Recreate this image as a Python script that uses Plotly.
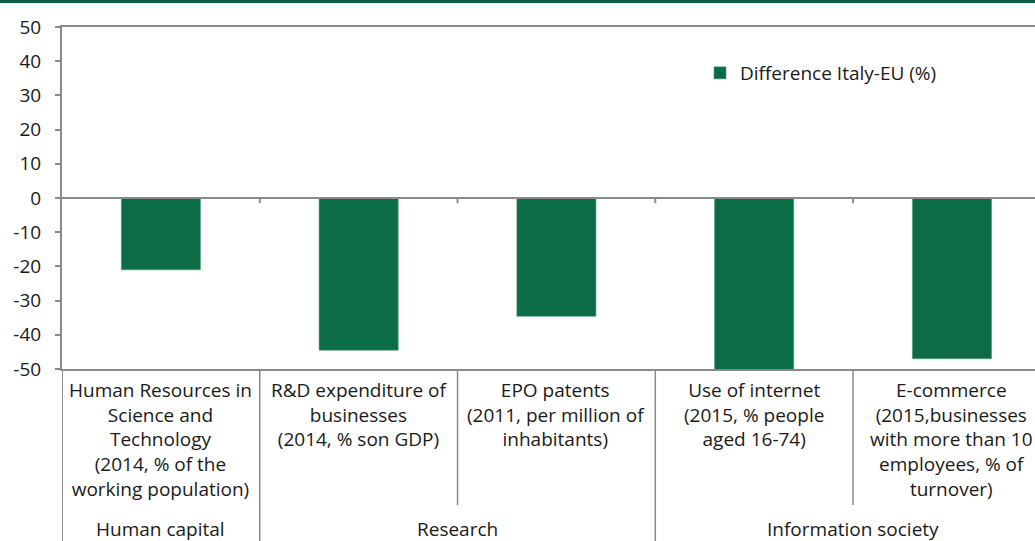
import plotly.graph_objects as go

categories = [
    "Human Resources in<br>Science and<br>Technology<br>(2014, % of the<br>working population)",
    "R&D expenditure of<br>businesses<br>(2014, % son GDP)",
    "EPO patents<br>(2011, per million of<br>inhabitants)",
    "Use of internet<br>(2015, % people<br>aged 16-74)",
    "E-commerce<br>(2015,businesses<br>with more than 10<br>employees, % of<br>turnover)",
]
groups = ["Human capital", "Research", "Research", "Information society", "Information society"]
values = [-21.0, -44.5, -34.6, -50.5, -47.0]
series_name = "Difference Italy-EU (%)"
y_ticks = [50, 40, 30, 20, 10, 0, -10, -20, -30, -40, -50]

W, H = 1035, 541
ML, MR, MT, MB = 62, 0, 27, 172
plot_h = H - MT - MB

GREEN = "#0b6c45"
GRAY = "#8a8a8a"
FONT = "Open Sans"
FS = 19

xs = list(range(len(categories)))

fig = go.Figure()
fig.add_trace(go.Bar(
    x=xs, y=values, name=series_name, width=0.4,
    marker=dict(color=GREEN, line=dict(color="#4f9a7c", width=0.6)),
    showlegend=True,
))

shapes = []
shapes.append(dict(type="line", xref="paper", yref="y", x0=0, x1=1, y0=0, y1=0,
                   line=dict(color=GRAY, width=2), layer="above"))
for i in range(len(categories) - 1):
    b = i + 0.5
    shapes.append(dict(type="line", xref="x", yref="y", x0=b, x1=b, y0=0, y1=-1.5,
                       line=dict(color=GRAY, width=2)))

deep = -(H - MT - plot_h) / plot_h
shallow = -(505 - (MT + plot_h)) / plot_h
shapes.append(dict(type="line", xref="x", yref="paper", x0=-0.5, x1=-0.5, y0=0, y1=deep,
                   line=dict(color=GRAY, width=2)))
for i in range(len(categories) - 1):
    b = i + 0.5
    y1 = deep if groups[i] != groups[i + 1] else shallow
    shapes.append(dict(type="line", xref="x", yref="paper", x0=b, x1=b, y0=0, y1=y1,
                       line=dict(color=GRAY, width=1.5)))

shapes.append(dict(type="rect", xref="paper", yref="paper", x0=-ML / (W - ML), x1=1,
                   y0=1 + (MT - 3) / plot_h, y1=1 + MT / plot_h,
                   line=dict(width=0), fillcolor="#0d5f45"))

annotations = []
for i, c in enumerate(categories):
    annotations.append(dict(x=i, xref="x", y=-(6) / plot_h, yref="paper", text=c,
                            showarrow=False, xanchor="center", yanchor="top",
                            font=dict(family=FONT, size=FS, color="#1a1a1a")))
seen = []
for g in groups:
    if g not in seen:
        seen.append(g)
for g in seen:
    idx = [i for i, gg in enumerate(groups) if gg == g]
    cx = (idx[0] + idx[-1]) / 2
    annotations.append(dict(x=cx, xref="x", y=-(529 - (MT + plot_h)) / plot_h, yref="paper",
                            text=g, showarrow=False, xanchor="center", yanchor="middle",
                            font=dict(family=FONT, size=FS, color="#1a1a1a")))

fig.update_layout(
    width=W, height=H,
    margin=dict(l=ML, r=MR, t=MT, b=MB, pad=0),
    plot_bgcolor="white", paper_bgcolor="white",
    font=dict(family=FONT, size=FS, color="#1a1a1a"),
    bargap=0.6,
    xaxis=dict(range=[-0.5, 4.42], showticklabels=False, ticks="", showgrid=False,
               zeroline=False, showline=True, linecolor=GRAY, linewidth=2, mirror=True),
    yaxis=dict(range=[-50, 50], tickvals=y_ticks, ticktext=[str(v) for v in y_ticks],
               ticks="outside", ticklen=5, tickcolor=GRAY, tickwidth=2,
               showgrid=False, zeroline=False, showline=True, linecolor=GRAY, linewidth=2,
               mirror=False, ticklabelstandoff=10,
               tickfont=dict(family=FONT, size=FS, color="#1a1a1a")),
    legend=dict(x=(700 - ML) / (W - ML), y=(MT + plot_h - 73) / plot_h, xanchor="left",
                yanchor="middle", bgcolor="rgba(0,0,0,0)", font=dict(family=FONT, size=FS),
                itemwidth=30),
    shapes=shapes,
    annotations=annotations,
)

fig.write_html("out.html", config={"displayModeBar": False},
               post_script="document.body.style.margin='0';document.body.style.overflow='hidden';")
